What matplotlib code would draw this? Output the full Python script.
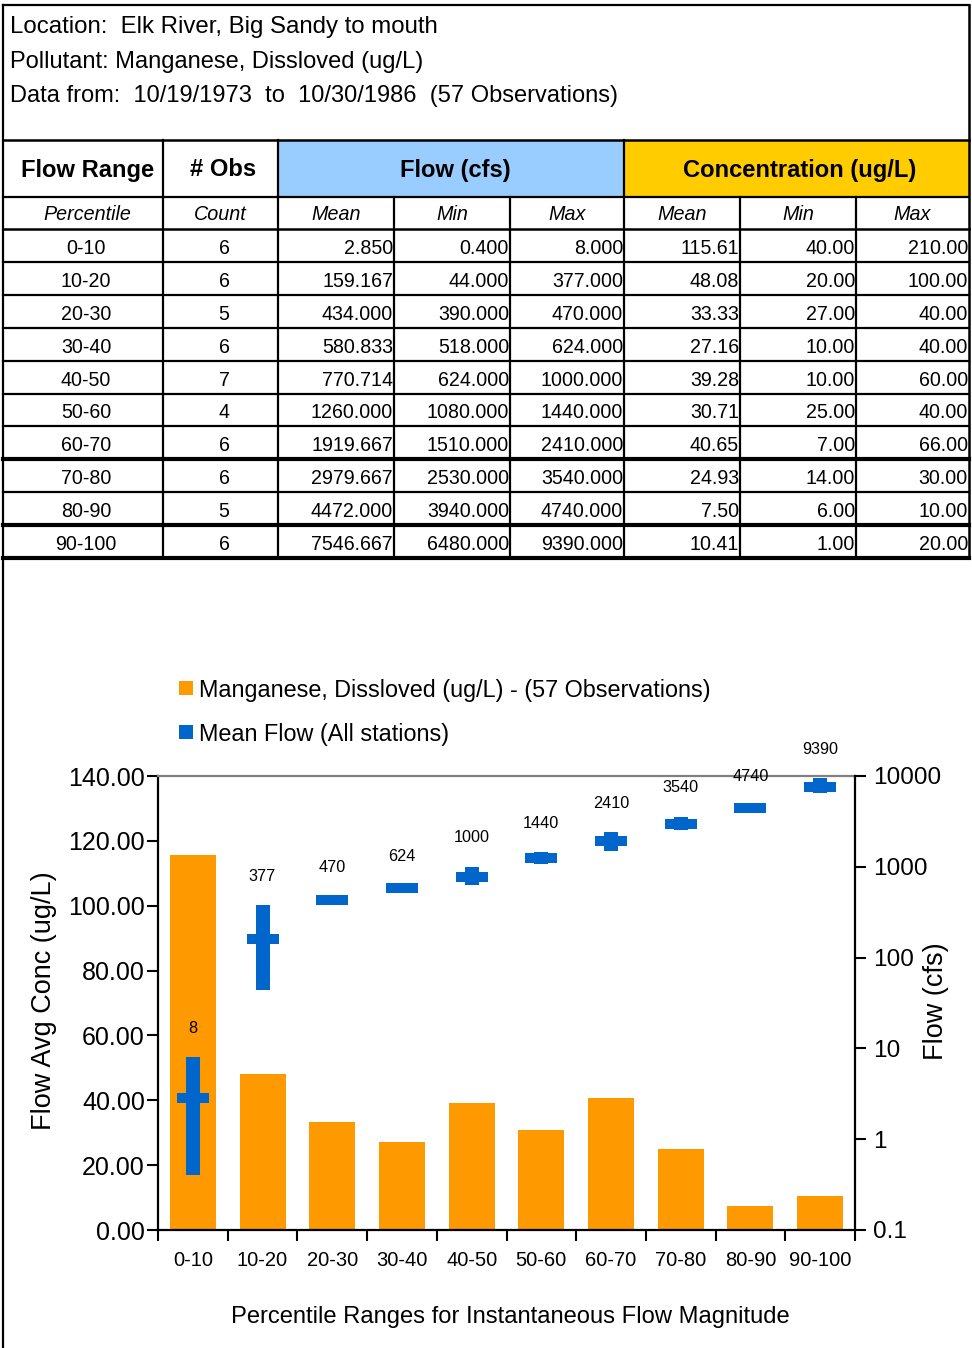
import matplotlib
matplotlib.use("Agg")
import numpy as np
import matplotlib.pyplot as plt
from matplotlib import font_manager
from matplotlib.patches import Rectangle
from matplotlib.ticker import FixedLocator, NullLocator, FuncFormatter, NullFormatter

# ---- data -------------------------------------------------------------
ranges = ["0-10", "10-20", "20-30", "30-40", "40-50",
          "50-60", "60-70", "70-80", "80-90", "90-100"]
counts = [6, 6, 5, 6, 7, 4, 6, 6, 5, 6]
flow_mean = [2.850, 159.167, 434.000, 580.833, 770.714,
             1260.000, 1919.667, 2979.667, 4472.000, 7546.667]
flow_min = [0.400, 44.000, 390.000, 518.000, 624.000,
            1080.000, 1510.000, 2530.000, 3940.000, 6480.000]
flow_max = [8.000, 377.000, 470.000, 624.000, 1000.000,
            1440.000, 2410.000, 3540.000, 4740.000, 9390.000]
conc_mean = [115.61, 48.08, 33.33, 27.16, 39.28,
             30.71, 40.65, 24.93, 7.50, 10.41]
conc_min = [40.00, 20.00, 27.00, 10.00, 10.00,
            25.00, 7.00, 14.00, 6.00, 1.00]
conc_max = [210.00, 100.00, 40.00, 40.00, 60.00,
            40.00, 66.00, 30.00, 10.00, 20.00]

header_lines = [
    "Location:  Elk River, Big Sandy to mouth",
    "Pollutant: Manganese, Dissloved (ug/L)",
    "Data from:  10/19/1973  to  10/30/1986  (57 Observations)",
]
bar_label = "Manganese, Dissloved (ug/L) - (57 Observations)"
flow_label = "Mean Flow (All stations)"

ORANGE = "#FF9900"
BLUE = "#0066CC"
LIGHT_BLUE = "#99CCFF"
GOLD = "#FFCC00"

# ---- figure / fonts -----------------------------------------------------
W, H = 972, 1348
fig = plt.figure(figsize=(W / 100, H / 100), dpi=100)
installed = {f.name for f in font_manager.fontManager.ttflist}
NARROW = "Liberation Sans Narrow" if "Liberation Sans Narrow" in installed else "Liberation Sans"
REG = "Liberation Sans"
plt.rcParams["font.family"] = [REG, "DejaVu Sans"]

# page layer in pixel coordinates (y downwards)
page = fig.add_axes([0, 0, 1, 1], zorder=0)
page.set_xlim(0, W)
page.set_ylim(H, 0)
page.axis("off")
renderer = fig.canvas.get_renderer()


def put(x, y, s, size, width=None, ha="left", family=NARROW, **kw):
    t = page.text(x, y, s, fontsize=size, ha=ha, va="center",
                  family=family, **kw)
    if width:
        w = t.get_window_extent(renderer).width
        t.set_fontsize(size * width / w)
    return t


def hline(y, x0, x1, lw=1.5):
    page.plot([x0, x1], [y, y], color="black", lw=lw, solid_capstyle="projecting")


def vline(x, y0, y1, lw=1.5):
    page.plot([x, x], [y0, y1], color="black", lw=lw, solid_capstyle="projecting")


# ---- header block --------------------------------------------------------
for s, y, w in zip(header_lines, [27, 62, 96], [427, 412, 606]):
    put(10, y, s, 20, width=w)

# ---- table -------------------------------------------------------------
cols = [3, 163, 278, 394, 510, 624, 740, 856, 969]
top, head_bot, sub_bot = 140, 197, 229
row_h = (558 - sub_bot) / len(ranges)
rows = [sub_bot + i * row_h for i in range(len(ranges) + 1)]

page.add_patch(Rectangle((cols[2], top), cols[5] - cols[2], head_bot - top,
                         facecolor=LIGHT_BLUE, edgecolor="none"))
page.add_patch(Rectangle((cols[5], top), cols[8] - cols[5], head_bot - top,
                         facecolor=GOLD, edgecolor="none"))

# outer frame
vline(3, 5, H, lw=1.6)
hline(5, 3, 969, lw=1.6)
vline(969, 5, rows[-1], lw=1.8)
hline(top, 3, 969, lw=1.8)
hline(head_bot, 3, 969, lw=1.6)
hline(sub_bot, 3, 969, lw=1.8)
for i, y in enumerate(rows[1:], start=1):
    thick = i in (7, 9, 10)
    hline(y, 3, 969, lw=3.0 if thick else 1.6)
for x in (cols[1], cols[2], cols[5]):
    vline(x, top, head_bot, lw=1.6)
for x in cols[1:-1]:
    vline(x, head_bot, rows[-1], lw=1.6)

# header row
t = put((cols[0] + cols[1]) / 2 + 5, 170, "Flow Range", 20, width=133, ha="center",
        fontweight="bold")
hsize = t.get_fontsize()
put((cols[1] + cols[2]) / 2 + 3, 170, "# Obs", hsize, ha="center", fontweight="bold")
put((cols[2] + cols[5]) / 2 + 4, 170, "Flow (cfs)", hsize, ha="center", fontweight="bold")
put((cols[5] + cols[8]) / 2 + 3, 170, "Concentration (ug/L)", hsize, ha="center",
    fontweight="bold")

# sub header
sub = ["Percentile", "Count", "Mean", "Min", "Max", "Mean", "Min", "Max"]
t = put(87, 215, "Percentile", 16, width=88, ha="center", style="italic")
ssize = t.get_fontsize()
for j, s in enumerate(sub[1:], start=1):
    put((cols[j] + cols[j + 1]) / 2, 215, s, ssize, ha="center", style="italic")

# data rows
probe = put(-500, -500, "1919.667", 16, width=82)
dsize = probe.get_fontsize()
probe.remove()
for i, r in enumerate(ranges):
    yc = (rows[i] + rows[i + 1]) / 2 + 3
    put(86, yc, r, dsize, ha="center")
    put(224, yc, str(counts[i]), dsize, ha="center")
    vals = [f"{flow_mean[i]:.3f}", f"{flow_min[i]:.3f}", f"{flow_max[i]:.3f}",
            f"{conc_mean[i]:.2f}", f"{conc_min[i]:.2f}", f"{conc_max[i]:.2f}"]
    for j, s in enumerate(vals):
        put(cols[j + 3] - 1, yc, s, dsize, ha="right")

# ---- legend ------------------------------------------------------------
page.add_patch(Rectangle((179, 681), 14, 14, facecolor=ORANGE, edgecolor="none"))
page.add_patch(Rectangle((179, 725), 14, 14, facecolor=BLUE, edgecolor="none"))
t = put(199, 690, bar_label, 20, width=511)
put(199, 734, flow_label, t.get_fontsize())

# ---- chart -------------------------------------------------------------
ax_l, ax_r, ax_t, ax_b = 158, 855, 776, 1230
ax = fig.add_axes([ax_l / W, 1 - ax_b / H, (ax_r - ax_l) / W, (ax_b - ax_t) / H],
                  zorder=2)
x = np.arange(len(ranges))
ax.bar(x, conc_mean, width=0.66, color=ORANGE, zorder=2)
ax.set_xlim(-0.5, len(ranges) - 0.5)
ax.set_ylim(0, 140)
ax.yaxis.set_major_locator(FixedLocator(np.arange(0, 141, 20)))
ax.yaxis.set_major_formatter(FuncFormatter(lambda v, p: f"{v:.2f}"))
ax.tick_params(axis="y", direction="out", length=8, width=1.5, pad=1.5,
               labelsize=18, labelfontfamily=NARROW)
ax.xaxis.set_major_locator(FixedLocator(np.arange(-0.5, len(ranges), 1.0)))
ax.xaxis.set_major_formatter(NullFormatter())
ax.xaxis.set_minor_locator(FixedLocator(x))
ax.set_xticklabels(ranges, minor=True)
ax.tick_params(axis="x", which="major", direction="out", length=8, width=1.5)
ax.tick_params(axis="x", which="minor", length=0, pad=15, labelsize=14.5,
               labelfontfamily=NARROW)
for side in ("left", "bottom"):
    ax.spines[side].set_linewidth(1.6)
ax.spines["top"].set_color("#808080")
ax.spines["top"].set_linewidth(1.6)
ax.spines["right"].set_visible(False)

ax.set_ylabel("Flow Avg Conc (ug/L)", fontsize=19.5, family=REG)
ax.yaxis.set_label_coords((57 - ax_l) / (ax_r - ax_l), 0.504)
xl = ax.set_xlabel("Percentile Ranges for Instantaneous Flow Magnitude",
                   fontsize=20, family=NARROW)
ax.xaxis.set_label_coords(0.505, -(1306 - ax_b) / (ax_b - ax_t))
w = xl.get_window_extent(renderer).width
xl.set_fontsize(20 * 556 / w)

ax2 = ax.twinx()
ax2.set_zorder(3)
ax2.set_yscale("log")
ax2.set_ylim(0.1, 10000)
ax2.yaxis.set_major_locator(FixedLocator([0.1, 1, 10, 100, 1000, 10000]))
ax2.yaxis.set_major_formatter(FuncFormatter(lambda v, p: f"{v:g}"))
ax2.yaxis.set_minor_locator(NullLocator())
ax2.tick_params(axis="y", direction="out", length=8, width=1.5, pad=5,
                labelsize=17.6)
for side in ("left", "top", "bottom"):
    ax2.spines[side].set_visible(False)
ax2.spines["right"].set_linewidth(1.6)
ax2.set_ylabel("Flow (cfs)", fontsize=19.5, family=REG)
ax2.yaxis.set_label_coords((923 - ax_l) / (ax_r - ax_l), 0.504)

lo_hi = ax2.vlines(x, flow_min, flow_max, colors=BLUE, lw=10.1)
lo_hi.set_capstyle("butt")
means = ax2.hlines(flow_mean, x - 0.23, x + 0.23, colors=BLUE, lw=7.2)
means.set_capstyle("butt")
for xi, m in zip(x, flow_max):
    ax2.annotate(f"{m:g}", (xi, m), xytext=(0, 29), textcoords="offset pixels",
                 ha="center", va="center", fontsize=11.7, family=NARROW)

fig.savefig("out.png", dpi=100, facecolor="white")
